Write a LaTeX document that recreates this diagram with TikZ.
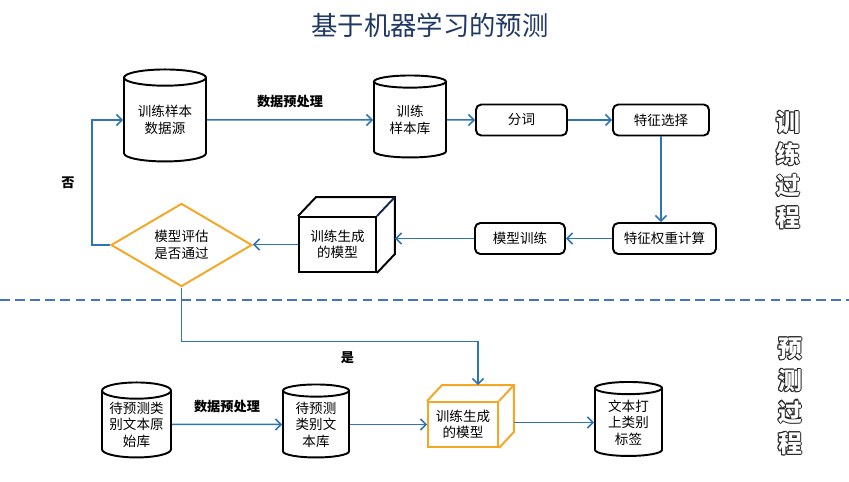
\documentclass[tikz,border=0pt]{standalone}
\usepackage{fontspec}
\setmainfont{Noto Sans CJK SC}
\usepackage{tikz}
\usetikzlibrary{arrows.meta,positioning,calc,shapes.geometric}
\definecolor{flow}{HTML}{2E75B6}
\definecolor{orng}{HTML}{F5A623}
\definecolor{titleblue}{HTML}{1F3864}
\definecolor{split}{HTML}{4472C4}
\definecolor{cubeedge}{HTML}{142850}

\tikzset{
  txt/.style={font=\fontsize{7.7}{9.4}\selectfont, align=center},
  db/.style={txt, cylinder, shape border rotate=90, aspect=0.3, draw, line width=1.1pt, inner sep=0pt},
  procbox/.style={txt, rectangle, rounded corners=3pt, draw, line width=1.1pt, minimum height=0.62cm, inner sep=0pt},
  cubefront/.style={txt, rectangle, draw, line width=1.1pt, inner sep=0pt},
  flowline/.style={draw=flow, line width=0.85pt},
  flowarrow/.style={flowline, -{Straight Barb[length=1.1mm,width=2.2mm]}},
  lbl/.style={font=\bfseries\fontsize{7.5}{9}\selectfont},
  vtext/.style={font=\bfseries\fontsize{13.6}{18}\selectfont, align=center, inner sep=0pt},
}

\begin{document}
\begin{tikzpicture}[x=0.02cm, y=-0.02cm]
  \useasboundingbox (0,0) rectangle (849,482);
  % title
  \node[font=\fontsize{15}{18}\selectfont, text=titleblue] (title) at (430,25) {基于机器学习的预测};
  % training part
  \node[db, minimum width=1.64cm, minimum height=1.84cm] (src) at (165,120) {训练样本\\数据源};
  \node[db, minimum width=1.44cm, minimum height=1.64cm] (smplib) at (410,120) {训练\\样本库};
  \node[procbox, minimum width=1.82cm] (seg) at (521.5,120) {分词};
  \node[procbox, minimum width=1.92cm] (fsel) at (661,120) {特征选择};
  \node[procbox, minimum width=2.06cm] (fwt) at (664.5,238.5) {特征权重计算};
  \node[procbox, minimum width=1.80cm] (mtrain) at (520,238.5) {模型训练};
  \node[cubefront, minimum width=1.54cm, minimum height=1.1cm] (model) at (337.5,244.5) {训练生成\\的模型};
  \draw[line width=1.1pt] (model.north west) -- ++(18,-19) -| ($(model.south east)+(18,-19)$) -- (model.south east);
  \draw[line width=1.1pt, cubeedge] (model.north east) -- ++(18,-19);
  \coordinate (modelside) at ($(model.east)+(18,0)$);
  \node[txt, diamond, draw=orng, line width=1.1pt, minimum width=2.82cm, minimum height=1.32cm, inner sep=0pt] (judge) at (181.5,245) {模型评估\\是否通过};
  % training flow
  \draw[flowarrow] (src) -- node[above=3pt, lbl]{数据预处理} (smplib);
  \draw[flowarrow] (smplib) -- (seg);
  \draw[flowarrow] (seg) -- (fsel);
  \draw[flowarrow] (fsel.south) -- (fsel.south |- fwt.north);
  \draw[flowarrow] (fwt) -- (mtrain);
  \draw[flowarrow] (mtrain) -- (mtrain -| modelside);
  \draw[flowarrow] (model.west) -- (model.west -| judge.east);
  \draw[flowarrow] (judge.west) -- ++(-18,0) |- (src.west);
  \node[lbl] (no) at (68,183) {否};
  % split line
  \coordinate (splitL) at (0,300);
  \coordinate (splitR) at (849,300);
  \draw[split, line width=1.1pt, dash pattern=on 5.6pt off 3pt] (splitL) -- (splitR);
  % prediction part
  \node[db, minimum width=1.38cm, minimum height=1.5cm] (testraw) at (136.5,424.5) {待预测类\\别文本原\\始库};
  \node[db, minimum width=1.32cm, minimum height=1.46cm] (testlib) at (316,424.5) {待预测\\类别文\\本库};
  \node[cubefront, draw=orng, minimum width=1.4cm, minimum height=0.9cm] (model2) at (463,424.5) {训练生成\\的模型};
  \draw[line width=1.1pt, orng] (model2.north west) -- ++(15,-16) -| ($(model2.south east)+(15,-16)$) -- (model2.south east);
  \draw[line width=1.1pt, orng] (model2.north east) -- ++(15,-16);
  \coordinate (model2top) at ($(model2.north)+(15,-16)$);
  \coordinate (model2side) at ($(model2.east)+(15,-2)$);
  \node[db, minimum width=1.34cm, minimum height=1.48cm] (labeled) at (628.5,422.5) {文本打\\上类别\\标签};
  % prediction flow
  \draw[flowarrow] (judge.south) -- ++(0,54) -| node[pos=0.28, below=2pt, lbl]{是} (model2top);
  \draw[flowarrow] (testraw) -- node[above=3pt, lbl]{数据预处理} (testlib);
  \draw[flowarrow] (testlib.east) -- (testlib.east -| model2.west);
  \draw[flowarrow] (model2side) -- (model2side -| labeled.west);
  % side tags
  \foreach \ox/\oy in {-0.6/0,0.6/0,0/-0.6,0/0.6,-0.45/-0.45,0.45/0.45,-0.45/0.45,0.45/-0.45} {
    \node[vtext, text=black!85] at ($(788,170)+(\ox pt,\oy pt)$) {训\\练\\过\\程};
    \node[vtext, text=black!85] at ($(790,396.5)+(\ox pt,\oy pt)$) {预\\测\\过\\程};
  }
  \node[vtext, text=white] (traintag) at (788,170) {训\\练\\过\\程};
  \node[vtext, text=white] (predtag) at (790,396.5) {预\\测\\过\\程};
\end{tikzpicture}
\end{document}
